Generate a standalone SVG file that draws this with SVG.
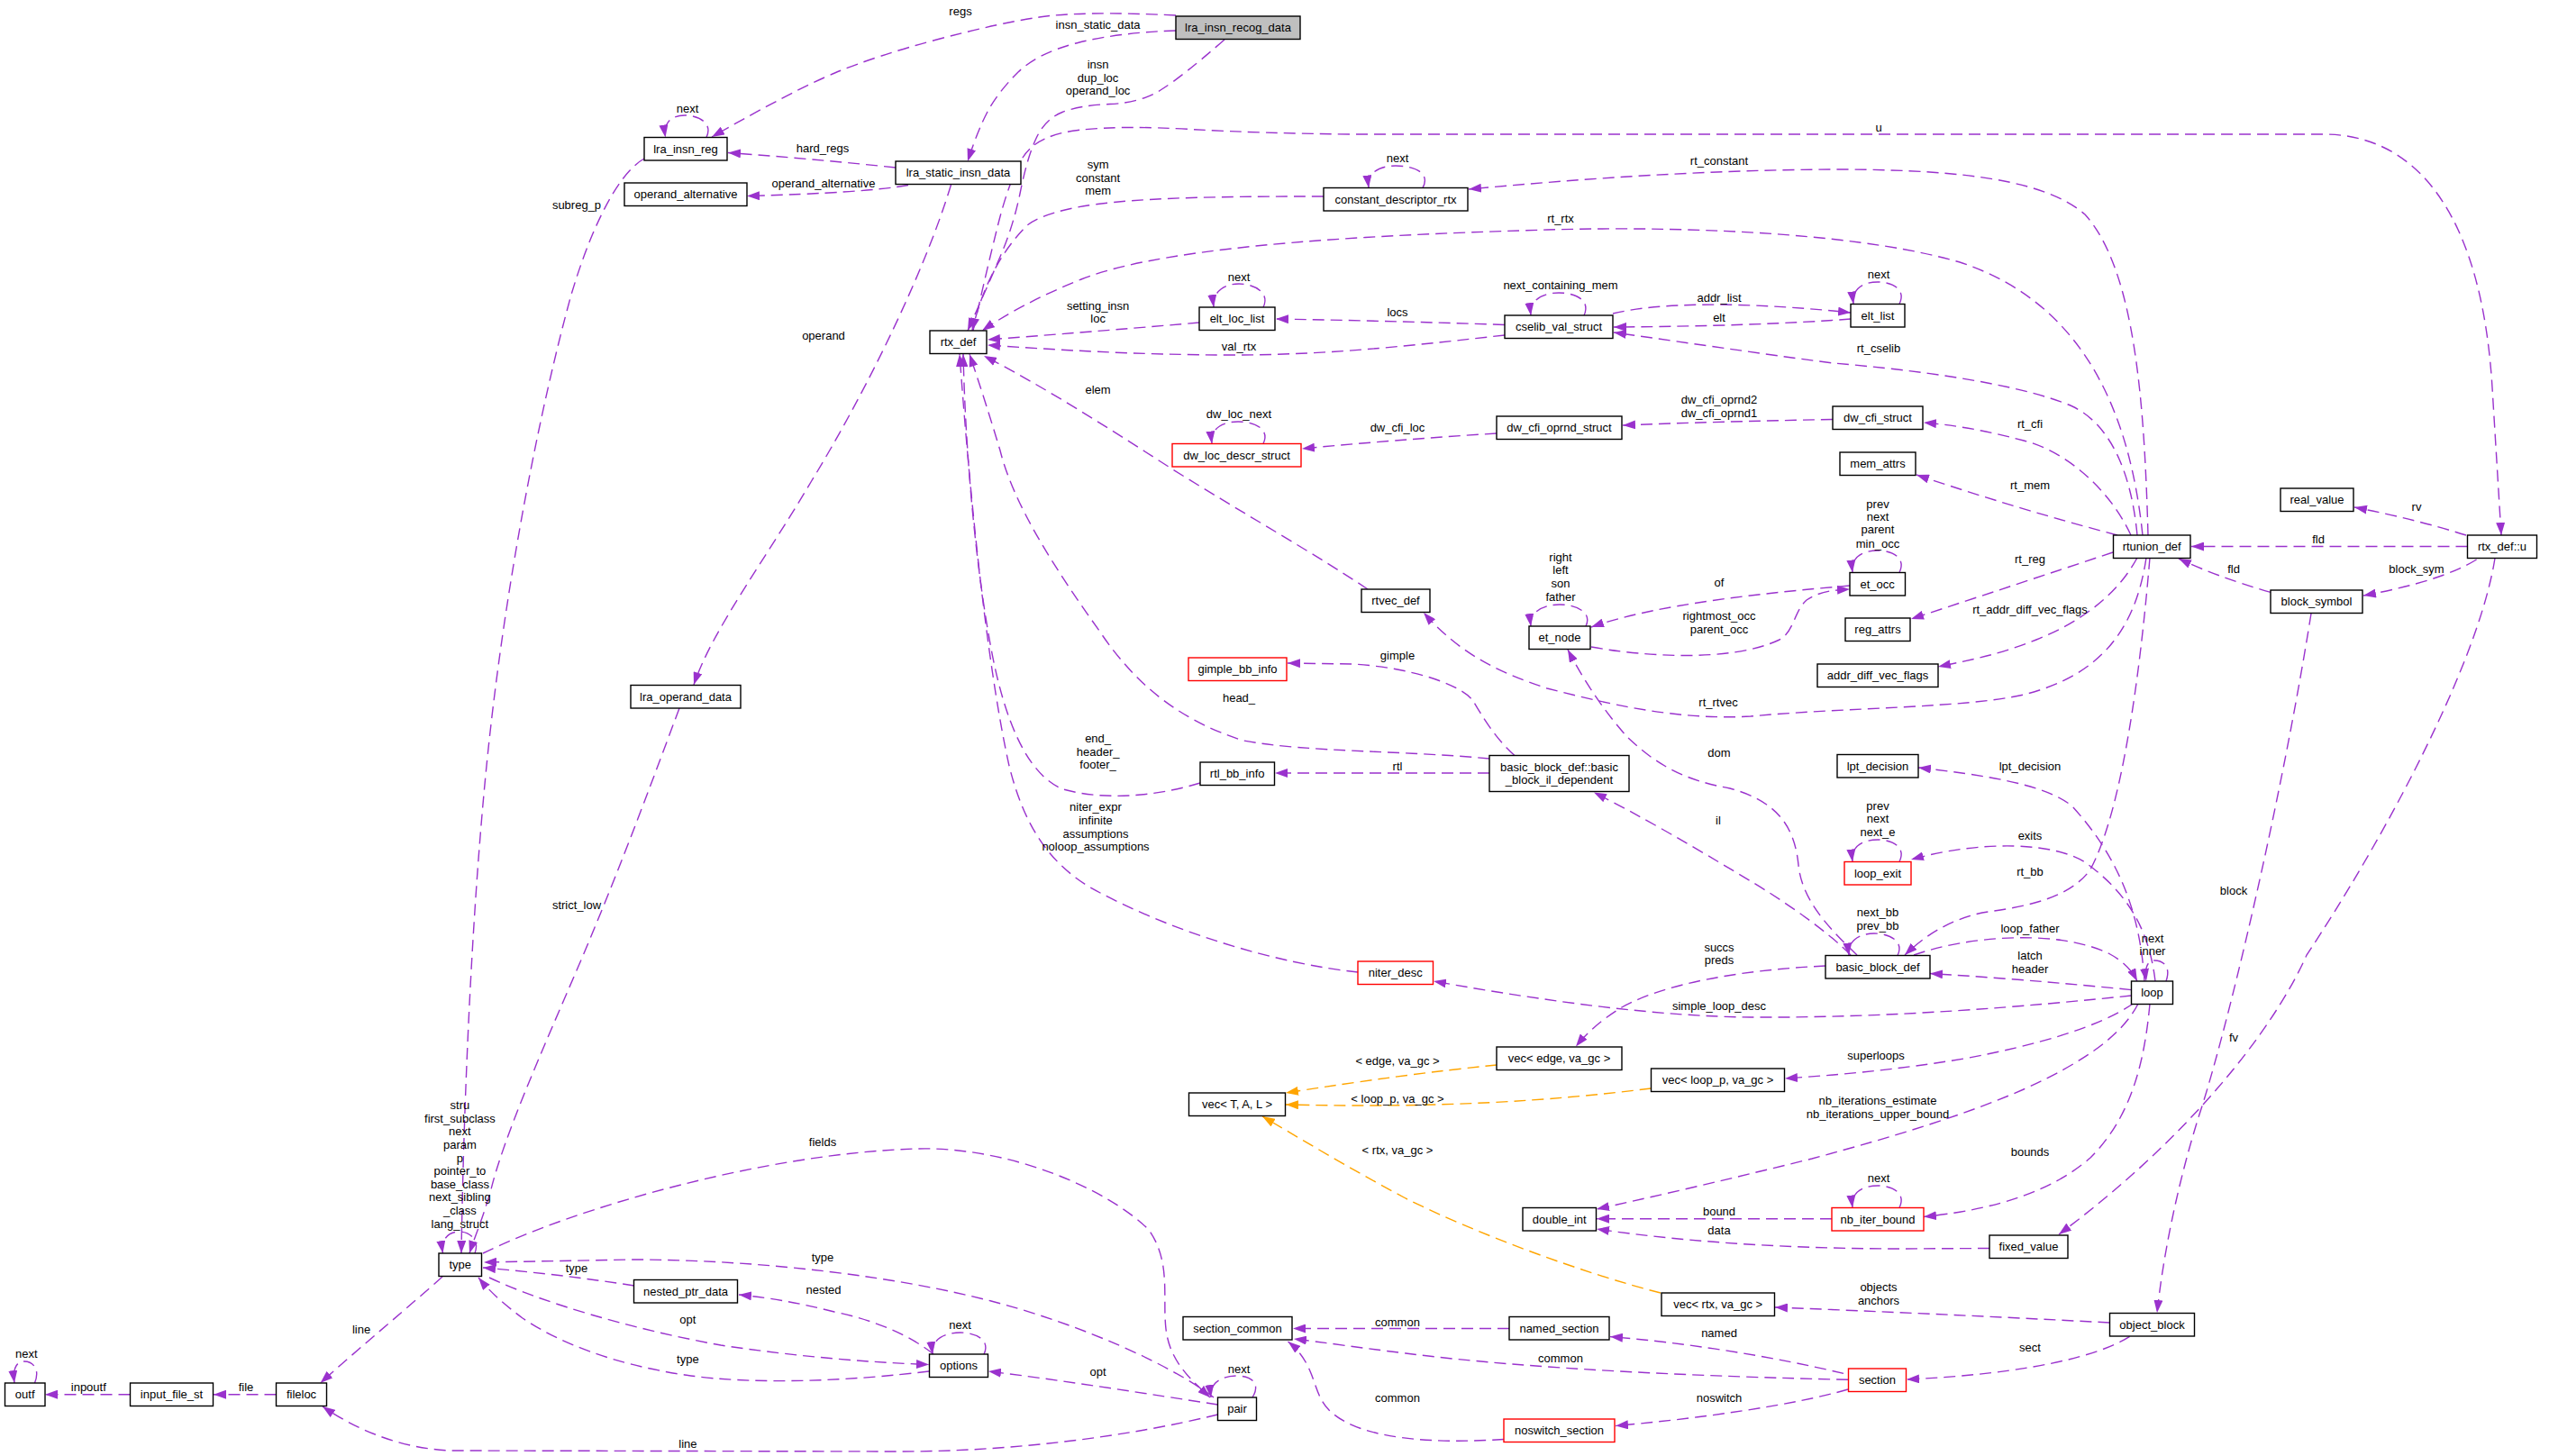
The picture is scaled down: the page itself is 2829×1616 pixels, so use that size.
<svg xmlns="http://www.w3.org/2000/svg" width="2829" height="1616" viewBox="0 0 2829 1616">
<style>
.e{fill:none;stroke:#9a32cd;stroke-width:1.4;stroke-dasharray:13,7;marker-end:url(#ap)}
.o{fill:none;stroke:#ffa500;stroke-width:1.4;stroke-dasharray:13,7;marker-end:url(#ao)}
.n rect{fill:#fff;stroke:#000;stroke-width:1.4}
.r rect{fill:#fff;stroke:#ff0000;stroke-width:1.4}
.g rect{fill:#bfbfbf;stroke:#000;stroke-width:1.4}
text{font-family:"Liberation Sans",Arial,sans-serif;font-size:13px;text-anchor:middle;fill:#000}
</style>
<defs>
<marker id="ap" viewBox="0 0 14 10" refX="14" refY="5" markerWidth="14" markerHeight="10" markerUnits="userSpaceOnUse" orient="auto"><path d="M0,0L14,5L0,10z" fill="#9a32cd"/></marker>
<marker id="ao" viewBox="0 0 14 10" refX="14" refY="5" markerWidth="14" markerHeight="10" markerUnits="userSpaceOnUse" orient="auto"><path d="M0,0L14,5L0,10z" fill="#ffa500"/></marker>
</defs>
<rect width="2829" height="1616" fill="#fff"/>
<g id="edges">
<path class="e" d="M1305,17 Q1200,12 1153.5,19 Q1107,26 1039.5,44 Q972,62 926.5,81 Q881,100 790,152"/>
<path class="e" d="M1305,34 Q1243,36 1198,47 Q1153,58 1130,80 Q1107,103 1096,124 Q1085,145 1074,179"/>
<path class="e" d="M1359,44 Q1311,86 1288,100 Q1266,114 1232,115.5 Q1198,117 1179,124.5 Q1160,132 1150,153.5 Q1140,175 1132.5,212.5 Q1125,250 1110,285 Q1095,320 1074,367"/>
<path class="e" d="M1080,367 Q1095,300 1107.5,250 Q1120,200 1135,175 Q1150,150 1196.5,144.5 Q1243,139 1321.5,143.5 Q1400,148 1500,149 L2580,149 C2690,150 2755,250 2766,430 L2776,594"/>
<path class="e" d="M1469,218 C1300,218 1180,220 1140,250 C1110,280 1090,320 1079,367"/>
<path class="e" d="M2378,594 C2365,470 2320,340 2178,292 C2080,262 1900,250 1717,255 C1550,260 1300,270 1200,310 C1150,330 1115,350 1090,367"/>
<path class="e" d="M2384,594 C2380,450 2370,300 2314,238 C2270,200 2180,189 2050,188 C1900,188 1760,198 1630,210"/>
<path class="e" d="M1579,208.5 C1588,192 1570,184 1549,184 C1530,184 1517,192 1519,208.5"/>
<path class="e" d="M1331,358 Q1240,366 1096,377"/>
<path class="e" d="M1402,341 C1410,325 1392,315 1375,315 C1358,315 1345,325 1347,341"/>
<path class="e" d="M1670,372 C1580,382 1480,394 1370,394 C1260,394 1170,388 1096,383"/>
<path class="e" d="M1670,360.5 Q1540,356 1416,354"/>
<path class="e" d="M1758,350 C1766,333 1748,325 1730,325 C1712,325 1697,333 1699,350"/>
<path class="e" d="M1790,348 C1840,336 1930,334 2054,347"/>
<path class="e" d="M2054,354 Q1950,362 1791,363"/>
<path class="e" d="M2108,337.5 C2116,321 2100,313 2084,313 C2066,313 2055,322 2057,337.5"/>
<path class="e" d="M2372,594 C2365,520 2340,470 2300,451 C2240,425 2120,410 2034,403 C1950,392 1870,380 1791,369"/>
<path class="e" d="M1518,654 C1460,615 1380,570 1300,520 C1230,475 1160,430 1092,395"/>
<path class="e" d="M1402,492.5 C1410,476 1392,468 1374,468 C1356,468 1343,476 1345,492.5"/>
<path class="e" d="M1661,481 Q1550,488 1445,498"/>
<path class="e" d="M2034,465.5 Q1900,468 1801,472"/>
<path class="e" d="M2365,594 C2340,540 2290,500 2246,489 C2200,477 2170,472 2135,469"/>
<path class="e" d="M2350,594 Q2240,565 2127,527"/>
<path class="e" d="M2345,613 Q2240,648 2121,687"/>
<path class="e" d="M2372,619 C2350,660 2310,690 2260,710 C2220,726 2190,732 2151,740"/>
<path class="e" d="M2382,619 C2370,700 2330,750 2246,771 C2180,786 2050,785 1943,795 C1860,800 1780,780 1717,764 C1660,745 1620,725 1580,680"/>
<path class="e" d="M1760,695 C1768,679 1748,671 1731,671 C1713,671 1697,679 1699,695"/>
<path class="e" d="M2108,635.5 C2116,619 2100,611 2084,611 C2066,611 2054,619 2056,635.5"/>
<path class="e" d="M2053,650 C1960,658 1840,670 1766,696"/>
<path class="e" d="M1766,718 C1820,728 1920,736 1975,710 C1992,700 1990,680 2005,666 C2020,656 2035,655 2053,654"/>
<path class="e" d="M2061,1060 C2030,1030 2000,1000 1996,960 C1992,920 1975,890 1920,875 C1870,866 1840,850 1807,819 C1785,795 1760,760 1740,721"/>
<path class="e" d="M1681,838.5 C1660,820 1645,795 1635,778 C1620,758 1560,740 1500,737 L1429,736"/>
<path class="e" d="M1653,842 C1560,833 1450,835 1380,822 C1310,800 1260,760 1220,700 C1170,630 1125,560 1110,500 C1095,450 1085,420 1076,393"/>
<path class="e" d="M1332,869 C1290,882 1230,890 1180,876 C1140,860 1115,800 1100,720 C1085,640 1072,520 1069,393"/>
<path class="e" d="M1507,1079 C1420,1070 1300,1035 1210,985 C1160,955 1135,910 1120,850 C1100,760 1080,600 1065,393"/>
<path class="e" d="M1653,858 L1415,858"/>
<path class="e" d="M2054,1060 C2030,1035 1980,1000 1943,978 C1880,940 1820,905 1769,879.5"/>
<path class="e" d="M2106,1060.5 C2114,1044 2096,1036 2080,1036 C2064,1036 2050,1044 2052,1060.5"/>
<path class="e" d="M2386,619 C2375,750 2355,900 2320,965 C2295,1000 2240,1007 2200,1013 C2160,1022 2135,1040 2114,1060"/>
<path class="e" d="M2380,1089 C2375,1010 2350,950 2300,895 C2270,870 2200,860 2129,852"/>
<path class="e" d="M2392,1089 C2385,1030 2360,990 2314,957 C2280,935 2200,932 2121,954"/>
<path class="e" d="M2108,956.5 C2116,940 2100,932 2084,932 C2066,932 2054,940 2056,956.5"/>
<path class="e" d="M2124,1060 C2180,1040 2280,1030 2340,1058 C2355,1066 2365,1075 2372,1089"/>
<path class="e" d="M2365.5,1098.6 Q2250,1087 2142,1080.5"/>
<path class="e" d="M2404,1089 C2410,1072 2400,1066 2391,1066 C2383,1066 2380,1075 2382,1089"/>
<path class="e" d="M2365.5,1105 C2250,1117 2100,1130 1943,1129 C1840,1128 1720,1112 1591,1089"/>
<path class="e" d="M2026,1072 C1940,1076 1850,1090 1800,1118 C1780,1130 1762,1145 1749,1161.5"/>
<path class="e" d="M2368,1113.5 C2330,1140 2260,1160 2180,1175 C2100,1188 2040,1193 1981,1197"/>
<path class="e" d="M2373,1114 C2355,1150 2310,1180 2246,1209 C2180,1238 2100,1262 2011,1286 C1930,1306 1850,1325 1772,1342"/>
<path class="e" d="M2386,1114 C2380,1180 2365,1240 2320,1285 C2280,1320 2220,1342 2135,1350.5"/>
<path class="e" d="M2108,1340.5 C2116,1324 2100,1316 2084,1316 C2066,1316 2054,1324 2056,1340.5"/>
<path class="e" d="M2033,1352.7 L1772,1352.7"/>
<path class="e" d="M2208,1385.5 L2110,1386 C2000,1386 1880,1380 1772,1364"/>
<path class="e" d="M2769,619.5 C2750,740 2640,940 2560,1060 C2520,1150 2420,1270 2285,1370"/>
<path class="e" d="M2565,681 C2530,900 2470,1150 2440,1240 C2415,1320 2400,1400 2394,1457"/>
<path class="e" d="M2748.6,621 Q2710,645 2623,661"/>
<path class="e" d="M2738.5,606.5 L2432,606.5"/>
<path class="e" d="M2520,657.4 Q2460,640 2418,620"/>
<path class="e" d="M2737,594 Q2680,576 2613,563"/>
<path class="e" d="M2341.5,1468 Q2150,1458 1970,1451"/>
<path class="e" d="M2363.6,1483.3 C2330,1505 2250,1525 2116,1531"/>
<path class="o" d="M1661,1182 Q1560,1192 1427,1213"/>
<path class="o" d="M1832.5,1208 C1720,1222 1600,1230 1427,1226"/>
<path class="o" d="M1843,1435 C1760,1414 1640,1370 1560,1330 C1500,1298 1440,1262 1401,1239"/>
<path class="e" d="M1675,1474.5 L1435,1474.5"/>
<path class="e" d="M2046,1524.4 C1970,1506 1870,1490 1787,1483.6"/>
<path class="e" d="M2051,1531.3 C1900,1528 1700,1520 1560,1502 C1510,1496 1470,1490 1436,1486"/>
<path class="e" d="M2051,1542 C1990,1560 1880,1575 1793,1582.5"/>
<path class="e" d="M1669,1597.5 C1600,1602 1510,1600 1475,1565 C1455,1545 1462,1515 1429.5,1489"/>
<path class="e" d="M536,1391 C640,1340 850,1280 1017,1275 C1120,1272 1230,1320 1275,1365 C1300,1400 1290,1440 1294,1475 C1298,1510 1320,1530 1343,1551"/>
<path class="e" d="M1347,1551 C1300,1515 1200,1470 1100,1444 C1000,1418 850,1398 700,1398 L537,1401"/>
<path class="e" d="M543,1418 C600,1445 700,1475 800,1493 C880,1505 960,1512 1031,1514.5"/>
<path class="e" d="M1031,1522 C950,1532 840,1538 760,1526 C680,1514 620,1490 580,1463 C560,1448 545,1435 531,1418"/>
<path class="e" d="M704,1427 Q620,1414 536,1407"/>
<path class="e" d="M1036,1503 C1010,1482 970,1465 926,1456 C890,1447 860,1441 820,1437"/>
<path class="e" d="M1092,1503 C1100,1487 1082,1479 1066,1479 C1048,1479 1033,1487 1035,1503"/>
<path class="e" d="M1351.5,1559 C1280,1548 1180,1532 1097,1522"/>
<path class="e" d="M1390,1551 C1400,1535 1388,1527 1373,1527 C1356,1527 1342,1535 1344,1551"/>
<path class="e" d="M1351.5,1570 C1250,1595 1120,1611 1000,1611 L500,1610 C450,1608 400,1590 358,1561"/>
<path class="e" d="M491,1417 C460,1445 400,1495 355.5,1535"/>
<path class="e" d="M306.5,1547.7 L237,1547.7"/>
<path class="e" d="M144.5,1547.7 L50,1547.7"/>
<path class="e" d="M38.5,1535 C45,1519 36,1511 27,1511 C18,1511 14,1519 16,1535"/>
<path class="e" d="M527,1391 C533,1375 520,1367 510,1367 C498,1367 489,1375 491.5,1391"/>
<path class="e" d="M715,176 C690,190 660,240 634,327 C600,450 560,650 540,850 C525,1000 515,1200 512,1391"/>
<path class="e" d="M754,786 C730,850 690,960 643,1070 C600,1170 560,1260 545,1320 C535,1355 526,1375 521,1391"/>
<path class="e" d="M1055.5,205 C1030,290 970,420 900,535 C850,620 790,700 770,760"/>
<path class="e" d="M994,186 Q900,176 808,169.5"/>
<path class="e" d="M1008,205.5 Q960,214 829,217.6"/>
<path class="e" d="M784,152.5 C792,136 774,128 760,128 C745,128 736,136 738.5,152.5"/>
<g id="edge-labels">
<text x="1066" y="16.5">regs</text>
<text x="1218.6" y="32">insn_static_data</text>
<text x="1218.6" y="76">insn</text>
<text x="1218.6" y="90.5">dup_loc</text>
<text x="1218.6" y="105">operand_loc</text>
<text x="763" y="124.5">next</text>
<text x="913" y="169">hard_regs</text>
<text x="914" y="208">operand_alternative</text>
<text x="640" y="231.5">subreg_p</text>
<text x="2085" y="145.5">u</text>
<text x="1551" y="180">next</text>
<text x="1908" y="183">rt_constant</text>
<text x="1218.6" y="187">sym</text>
<text x="1218.6" y="201.5">constant</text>
<text x="1218.6" y="216">mem</text>
<text x="1732" y="247.3">rt_rtx</text>
<text x="1375" y="312">next</text>
<text x="1732" y="320.5">next_containing_mem</text>
<text x="2085" y="309">next</text>
<text x="1908" y="335">addr_list</text>
<text x="1218.6" y="343.5">setting_insn</text>
<text x="1218.6" y="357.5">loc</text>
<text x="1551" y="350.5">locs</text>
<text x="1908" y="356.5">elt</text>
<text x="914" y="376.5">operand</text>
<text x="1375" y="389">val_rtx</text>
<text x="2085" y="391">rt_cselib</text>
<text x="1218.6" y="437">elem</text>
<text x="1908" y="448">dw_cfi_oprnd2</text>
<text x="1908" y="462.5">dw_cfi_oprnd1</text>
<text x="1375" y="464.2">dw_loc_next</text>
<text x="2253" y="474.5">rt_cfi</text>
<text x="1551" y="479">dw_cfi_loc</text>
<text x="2253" y="543">rt_mem</text>
<text x="2084" y="563.8">prev</text>
<text x="2084" y="577.5">next</text>
<text x="2084" y="592.4">parent</text>
<text x="2084" y="607.5">min_occ</text>
<text x="2682" y="567.2">rv</text>
<text x="2573" y="602.7">fld</text>
<text x="2253" y="624.5">rt_reg</text>
<text x="1732" y="623.3">right</text>
<text x="1732" y="637.1">left</text>
<text x="1732" y="652.3">son</text>
<text x="1732" y="667.1">father</text>
<text x="2682" y="636.1">block_sym</text>
<text x="2479" y="636.1">fld</text>
<text x="1908" y="651">of</text>
<text x="2253" y="681">rt_addr_diff_vec_flags</text>
<text x="1908" y="687.7">rightmost_occ</text>
<text x="1908" y="703.2">parent_occ</text>
<text x="1551" y="731.5">gimple</text>
<text x="1375" y="779">head_</text>
<text x="1907" y="784.2">rt_rtvec</text>
<text x="1218.6" y="823.8">end_</text>
<text x="1218.6" y="838.9">header_</text>
<text x="1218.6" y="853">footer_</text>
<text x="1908" y="839.9">dom</text>
<text x="1551" y="854.7">rtl</text>
<text x="2253" y="854.7">lpt_decision</text>
<text x="2084" y="898.8">prev</text>
<text x="2084" y="913.3">next</text>
<text x="2084" y="928.1">next_e</text>
<text x="1216" y="900.2">niter_expr</text>
<text x="1216" y="915">infinite</text>
<text x="1216" y="929.5">assumptions</text>
<text x="1216" y="944.3">noloop_assumptions</text>
<text x="1907" y="915">il</text>
<text x="2253" y="932.2">exits</text>
<text x="2253" y="971.8">rt_bb</text>
<text x="2479" y="992.5">block</text>
<text x="2084" y="1016.5">next_bb</text>
<text x="2084" y="1032">prev_bb</text>
<text x="640" y="1009">strict_low</text>
<text x="2253" y="1034.8">loop_father</text>
<text x="2389" y="1045.5">next</text>
<text x="2389" y="1060.3">inner</text>
<text x="1908" y="1056.2">succs</text>
<text x="1908" y="1070">preds</text>
<text x="2253" y="1064.8">latch</text>
<text x="2253" y="1079.5">header</text>
<text x="1908" y="1120.8">simple_loop_desc</text>
<text x="2479" y="1155.5">fv</text>
<text x="2082" y="1176.2">superloops</text>
<text x="1551" y="1181.7">&lt; edge, va_gc &gt;</text>
<text x="1551" y="1223.5">&lt; loop_p, va_gc &gt;</text>
<text x="2084" y="1225.5">nb_iterations_estimate</text>
<text x="2084" y="1240.5">nb_iterations_upper_bound</text>
<text x="510.4" y="1231.2">stru</text>
<text x="510.4" y="1245.8">first_subclass</text>
<text x="510.4" y="1260.4">next</text>
<text x="510.4" y="1275">param</text>
<text x="510.4" y="1289.6">p</text>
<text x="510.4" y="1304.2">pointer_to</text>
<text x="510.4" y="1318.8">base_class</text>
<text x="510.4" y="1333.4">next_sibling</text>
<text x="510.4" y="1348">_class</text>
<text x="510.4" y="1362.6">lang_struct</text>
<text x="913" y="1271.5">fields</text>
<text x="1551" y="1281">&lt; rtx, va_gc &gt;</text>
<text x="2253" y="1282.7">bounds</text>
<text x="2085" y="1312.3">next</text>
<text x="1908" y="1348.9">bound</text>
<text x="1908" y="1369.5">data</text>
<text x="913" y="1400.1">type</text>
<text x="640" y="1412.2">type</text>
<text x="2085" y="1433.1">objects</text>
<text x="2085" y="1448.1">anchors</text>
<text x="914" y="1435.9">nested</text>
<text x="763.4" y="1469">opt</text>
<text x="1551" y="1471.5">common</text>
<text x="1065.5" y="1474.9">next</text>
<text x="1908" y="1484.3">named</text>
<text x="401" y="1479.5">line</text>
<text x="2253" y="1500">sect</text>
<text x="29.4" y="1507.3">next</text>
<text x="1732" y="1511.5">common</text>
<text x="763.4" y="1513.2">type</text>
<text x="1375" y="1523.7">next</text>
<text x="1218.6" y="1527.1">opt</text>
<text x="98.3" y="1543.9">inpoutf</text>
<text x="273" y="1543.9">file</text>
<text x="1908" y="1556">noswitch</text>
<text x="1551" y="1556">common</text>
<text x="763.4" y="1606.5">line</text>
</g>
</g>
<g id="n_lra_insn_recog_data" class="g"><rect x="1305" y="18" width="138" height="25.5"/><text x="1374" y="35.2">lra_insn_recog_data</text></g>
<g id="n_lra_insn_reg" class="n"><rect x="715" y="152.5" width="92" height="25.5"/><text x="761" y="169.7">lra_insn_reg</text></g>
<g id="n_operand_alternative" class="n"><rect x="693" y="203" width="136" height="25.5"/><text x="761" y="220.2">operand_alternative</text></g>
<g id="n_lra_static_insn_data" class="n"><rect x="994" y="179" width="139" height="25.5"/><text x="1063.5" y="196.2">lra_static_insn_data</text></g>
<g id="n_rtx_def" class="n"><rect x="1032" y="367" width="63" height="25.5"/><text x="1063.5" y="384.2">rtx_def</text></g>
<g id="n_elt_loc_list" class="n"><rect x="1331" y="341" width="84" height="25.5"/><text x="1373" y="358.2">elt_loc_list</text></g>
<g id="n_dw_loc_descr_struct" class="r"><rect x="1301" y="492.5" width="143" height="25.5"/><text x="1372.5" y="509.7">dw_loc_descr_struct</text></g>
<g id="n_constant_descriptor_rtx" class="n"><rect x="1469" y="208.5" width="160" height="25.5"/><text x="1549" y="225.7">constant_descriptor_rtx</text></g>
<g id="n_cselib_val_struct" class="n"><rect x="1670" y="350" width="120" height="25.5"/><text x="1730" y="367.2">cselib_val_struct</text></g>
<g id="n_elt_list" class="n"><rect x="2054" y="337.5" width="60" height="25.5"/><text x="2084" y="354.7">elt_list</text></g>
<g id="n_dw_cfi_oprnd_struct" class="n"><rect x="1661" y="462" width="139" height="25.5"/><text x="1730.5" y="479.2">dw_cfi_oprnd_struct</text></g>
<g id="n_dw_cfi_struct" class="n"><rect x="2034" y="451" width="100" height="25.5"/><text x="2084" y="468.2">dw_cfi_struct</text></g>
<g id="n_mem_attrs" class="n"><rect x="2042" y="502" width="84" height="25.5"/><text x="2084" y="519.2">mem_attrs</text></g>
<g id="n_real_value" class="n"><rect x="2531" y="542" width="81" height="25.5"/><text x="2571.5" y="559.2">real_value</text></g>
<g id="n_rtunion_def" class="n"><rect x="2345.5" y="594" width="85.5" height="25.5"/><text x="2388.2" y="611.2">rtunion_def</text></g>
<g id="n_rtx_def_u" class="n"><rect x="2738.5" y="594" width="77" height="25.5"/><text x="2777" y="611.2">rtx_def::u</text></g>
<g id="n_block_symbol" class="n"><rect x="2520" y="655" width="102" height="25.5"/><text x="2571" y="672.2">block_symbol</text></g>
<g id="n_rtvec_def" class="n"><rect x="1511" y="654" width="76" height="25.5"/><text x="1549" y="671.2">rtvec_def</text></g>
<g id="n_et_node" class="n"><rect x="1697" y="695" width="68" height="25.5"/><text x="1731" y="712.2">et_node</text></g>
<g id="n_et_occ" class="n"><rect x="2053" y="635.5" width="61.5" height="25.5"/><text x="2083.7" y="652.7">et_occ</text></g>
<g id="n_reg_attrs" class="n"><rect x="2048" y="686" width="72" height="25.5"/><text x="2084" y="703.2">reg_attrs</text></g>
<g id="n_addr_diff_vec_flags" class="n"><rect x="2017" y="737" width="134" height="25.5"/><text x="2084" y="754.2">addr_diff_vec_flags</text></g>
<g id="n_gimple_bb_info" class="r"><rect x="1319" y="730" width="109" height="25.5"/><text x="1373.5" y="747.2">gimple_bb_info</text></g>
<g id="n_rtl_bb_info" class="n"><rect x="1332" y="846" width="82.5" height="25.5"/><text x="1373.2" y="863.2">rtl_bb_info</text></g>
<g id="n_basic_block_il_dependent" class="n"><rect x="1653" y="838.5" width="155" height="40"/><text x="1730.5" y="855.8">basic_block_def::basic</text><text x="1730.5" y="870.3">_block_il_dependent</text></g>
<g id="n_lpt_decision" class="n"><rect x="2039" y="837.5" width="90" height="25.5"/><text x="2084" y="854.7">lpt_decision</text></g>
<g id="n_loop_exit" class="r"><rect x="2047" y="956.5" width="74" height="25.5"/><text x="2084" y="973.7">loop_exit</text></g>
<g id="n_basic_block_def" class="n"><rect x="2026" y="1060.5" width="116" height="25.5"/><text x="2084" y="1077.7">basic_block_def</text></g>
<g id="n_lra_operand_data" class="n"><rect x="700" y="760.5" width="122" height="25.5"/><text x="761" y="777.7">lra_operand_data</text></g>
<g id="n_type" class="n"><rect x="487" y="1391" width="47.5" height="25.5"/><text x="510.7" y="1408.2">type</text></g>
<g id="n_outf" class="n"><rect x="5.5" y="1535" width="44.5" height="25.5"/><text x="27.7" y="1552.2">outf</text></g>
<g id="n_input_file_st" class="n"><rect x="144.5" y="1535" width="92" height="25.5"/><text x="190.5" y="1552.2">input_file_st</text></g>
<g id="n_fileloc" class="n"><rect x="306.5" y="1535" width="56" height="25.5"/><text x="334.5" y="1552.2">fileloc</text></g>
<g id="n_vec_T_A_L" class="n"><rect x="1319.5" y="1213" width="107" height="25.5"/><text x="1373" y="1230.2">vec&lt; T, A, L &gt;</text></g>
<g id="n_nested_ptr_data" class="n"><rect x="703.5" y="1420.5" width="115" height="25.5"/><text x="761" y="1437.7">nested_ptr_data</text></g>
<g id="n_options" class="n"><rect x="1031.5" y="1503" width="65" height="25.5"/><text x="1064" y="1520.2">options</text></g>
<g id="n_pair" class="n"><rect x="1351.5" y="1551" width="43" height="25.5"/><text x="1373" y="1568.2">pair</text></g>
<g id="n_section_common" class="n"><rect x="1313" y="1461.5" width="121" height="25.5"/><text x="1373.5" y="1478.7">section_common</text></g>
<g id="n_niter_desc" class="r"><rect x="1507" y="1067" width="83.5" height="25.5"/><text x="1548.7" y="1084.2">niter_desc</text></g>
<g id="n_vec_edge" class="n"><rect x="1661" y="1162" width="139" height="25.5"/><text x="1730.5" y="1179.2">vec&lt; edge, va_gc &gt;</text></g>
<g id="n_vec_loop_p" class="n"><rect x="1832.5" y="1186" width="148" height="25.5"/><text x="1906.5" y="1203.2">vec&lt; loop_p, va_gc &gt;</text></g>
<g id="n_double_int" class="n"><rect x="1690" y="1340.5" width="81.5" height="25.5"/><text x="1730.7" y="1357.7">double_int</text></g>
<g id="n_nb_iter_bound" class="r"><rect x="2033" y="1340.5" width="102" height="25.5"/><text x="2084" y="1357.7">nb_iter_bound</text></g>
<g id="n_vec_rtx" class="n"><rect x="1844" y="1435" width="125.5" height="25.5"/><text x="1906.7" y="1452.2">vec&lt; rtx, va_gc &gt;</text></g>
<g id="n_named_section" class="n"><rect x="1675" y="1461.5" width="111" height="25.5"/><text x="1730.5" y="1478.7">named_section</text></g>
<g id="n_section" class="r"><rect x="2051.5" y="1519" width="64" height="25.5"/><text x="2083.5" y="1536.2">section</text></g>
<g id="n_noswitch_section" class="r"><rect x="1669" y="1575" width="123" height="25.5"/><text x="1730.5" y="1592.2">noswitch_section</text></g>
<g id="n_loop" class="n"><rect x="2365.5" y="1089" width="46" height="25.5"/><text x="2388.5" y="1106.2">loop</text></g>
<g id="n_fixed_value" class="n"><rect x="2208" y="1371" width="87" height="25.5"/><text x="2251.5" y="1388.2">fixed_value</text></g>
<g id="n_object_block" class="n"><rect x="2341.5" y="1457.5" width="94" height="25.5"/><text x="2388.5" y="1474.7">object_block</text></g>
</svg>
